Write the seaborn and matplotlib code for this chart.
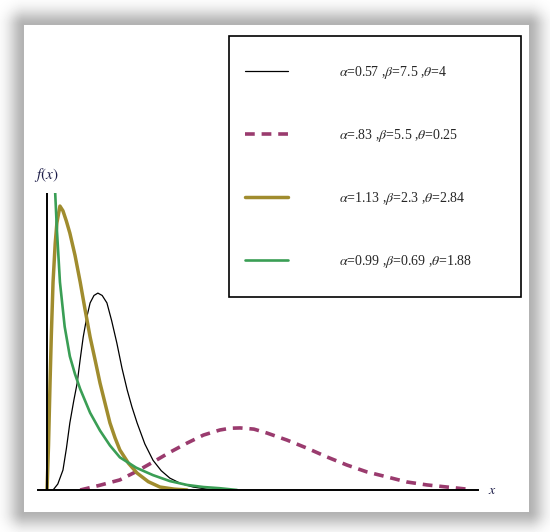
import numpy as np
import pandas as pd
import matplotlib
matplotlib.use("Agg")
import matplotlib.pyplot as plt
import matplotlib.patches as mpatches
import seaborn as sns


# Data (arbitrary units)

black_x = [0.14, 0.25, 0.37, 0.45, 0.53, 0.62, 0.70, 0.77, 0.84, 0.92, 1.0, 1.09, 1.18,
           1.28, 1.39, 1.50, 1.62, 1.74, 1.86, 1.97, 2.09, 2.27, 2.46, 2.65, 2.85, 3.10,
           3.39, 3.71, 4.0]
black_y = [0.0, 0.02, 0.067, 0.14, 0.226, 0.30, 0.36, 0.44, 0.515, 0.58, 0.63, 0.655, 0.663,
           0.655, 0.63, 0.57, 0.495, 0.41, 0.337, 0.28, 0.226, 0.155, 0.10, 0.065, 0.04, 0.022,
           0.01, 0.003, 0.0]

purple_x = [0.77, 1.2, 1.69, 2.07, 2.46, 2.85, 3.25, 3.63, 4.01, 4.25, 4.48, 4.8, 5.10,
            5.57, 6.03, 6.50, 6.96, 7.42, 7.89, 8.35, 8.82, 9.28, 9.74]
purple_y = [0.0, 0.015, 0.034, 0.062, 0.094, 0.127, 0.158, 0.185, 0.202, 0.208, 0.209, 0.205, 0.192,
            0.168, 0.141, 0.111, 0.084, 0.061, 0.044, 0.027, 0.017, 0.010, 0.003]

olive_x = [0.0, 0.035, 0.07, 0.10, 0.14, 0.19, 0.23, 0.30, 0.37, 0.45, 0.53, 0.65, 0.77,
           0.88, 1.0, 1.12, 1.23, 1.35, 1.46, 1.58, 1.69, 1.89, 2.09, 2.35, 2.62, 2.95, 3.25]
olive_y = [0.0, 0.15, 0.36, 0.52, 0.70, 0.83, 0.90, 0.956, 0.94, 0.905, 0.865, 0.79, 0.70,
           0.61, 0.515, 0.435, 0.36, 0.29, 0.226, 0.175, 0.135, 0.09, 0.057, 0.028, 0.01, 0.003, 0.0]

green_x = [0.15, 0.19, 0.23, 0.30, 0.41, 0.53, 0.65, 0.77, 1.0, 1.23, 1.46, 1.69, 2.07,
           2.46, 2.85, 3.25, 3.63, 4.01, 4.41]
green_y = [1.15, 1.0, 0.875, 0.70, 0.55, 0.45, 0.39, 0.34, 0.26, 0.20, 0.15, 0.11, 0.075,
           0.05, 0.03, 0.017, 0.01, 0.006, 0.0]

labels = [
    r"$\alpha$=0.57 ,$\beta$=7.5 ,$\theta$=4",
    r"$\alpha$=.83 ,$\beta$=5.5 ,$\theta$=0.25",
    r"$\alpha$=1.13 ,$\beta$=2.3 ,$\theta$=2.84",
    r"$\alpha$=0.99 ,$\beta$=0.69 ,$\theta$=1.88",
]


sns.set_theme(style="white")
plt.rcParams["font.family"] = ["Liberation Serif", "DejaVu Serif"]
plt.rcParams["mathtext.fontset"] = "stix"

W, H = 550, 532
fig = plt.figure(figsize=(W / 100, H / 100), dpi=100)
fig.patch.set_facecolor("white")

# -------------------------------------------------
# soft drop-shadow frame behind the chart

bg = fig.add_axes([0, 0, 1, 1])
bg.set_axis_off()
yy, xx = np.mgrid[0:H, 0:W]
x0, x1, y0, y1 = 24, 528, 25, 511
dx = np.maximum(np.maximum(x0 - xx, xx - x1), 0)
dy = np.maximum(np.maximum(y0 - yy, yy - y1), 0)
dist = np.hypot(dx, dy)
shade = 1 - 0.30 * np.exp(-(dist / 15.0) ** 2)
inside = (xx >= x0) & (xx <= x1) & (yy >= y0) & (yy <= y1)
shade[inside] = 1.0
bg.imshow(shade, cmap="gray", vmin=0, vmax=1, extent=[0, W, H, 0], aspect="auto")
bg.set_xlim(0, W)
bg.set_ylim(H, 0)

# -------------------------------------------------
# main axes

ax = fig.add_axes([38 / W, (H - 490) / H, 440 / W, 297 / H])
ax.patch.set_alpha(0)
ax.set_xlim(-0.209, 10)
ax.set_ylim(0, 1)

sns.lineplot(x=black_x, y=black_y, ax=ax, color="black", lw=0.9, label=labels[0], sort=False)
sns.lineplot(x=purple_x, y=purple_y, ax=ax, color="#9a3b6e", lw=2.6, label=labels[1],
             sort=False, dashes=False, linestyle=(0, (2.7, 1.9)))
sns.lineplot(x=olive_x, y=olive_y, ax=ax, color="#a08c2e", lw=2.5, label=labels[2], sort=False)
sns.lineplot(x=green_x, y=green_y, ax=ax, color="#3a9e55", lw=1.9, label=labels[3], sort=False)

ax.axvline(0, color="black", lw=1.4)
for s in ["top", "right", "left"]:
    ax.spines[s].set_visible(False)
ax.spines["bottom"].set_color("black")
ax.spines["bottom"].set_linewidth(1.4)
ax.set_xticks([])
ax.set_yticks([])
ax.set_xlabel("")
ax.set_ylabel("")

fig.text(46 / W, 1 - 175 / H, r"$f(x)$", fontsize=11, color="#1c1c48", ha="center", va="center")
fig.text(492 / W, 1 - 491 / H, r"$x$", fontsize=10, color="#1c1c48", ha="center", va="center")

# legend + its box
leg = ax.legend(loc="upper left", bbox_to_anchor=(245 / W, 1 - 64 / H),
                bbox_transform=fig.transFigure, frameon=False, fontsize=10,
                handlelength=3.1, handletextpad=3.7, labelspacing=3.3,
                borderpad=0, borderaxespad=0)
fig.patches.append(mpatches.Rectangle((229 / W, 1 - 297 / H), 292 / W, 261 / H,
                                      transform=fig.transFigure, fill=False,
                                      edgecolor="black", lw=1.2))

fig.savefig("out.png", dpi=100)
